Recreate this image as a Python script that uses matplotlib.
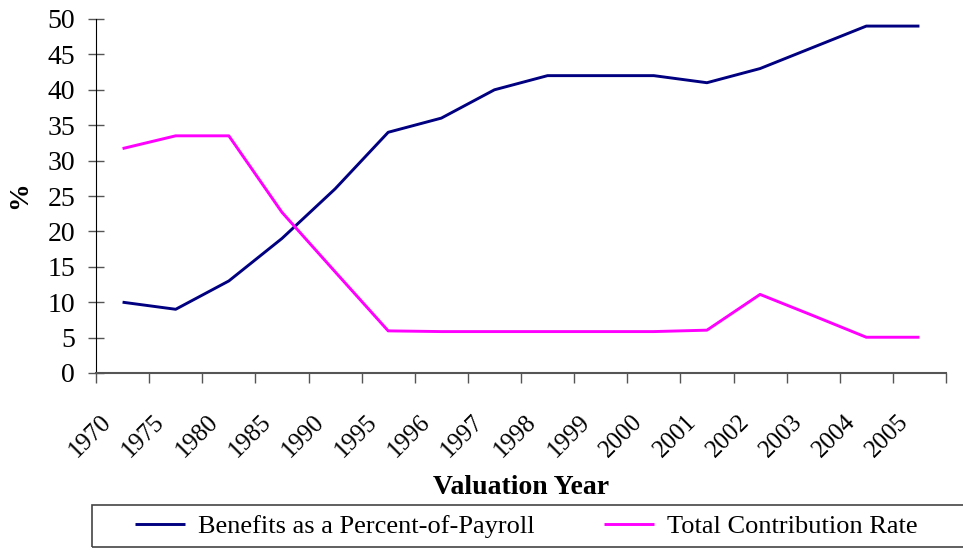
import matplotlib
matplotlib.use("Agg")
from matplotlib import pyplot as plt
from matplotlib.patches import Rectangle

years = ['1970', '1975', '1980', '1985', '1990', '1995', '1996', '1997',
         '1998', '1999', '2000', '2001', '2002', '2003', '2004', '2005']
benefits = [10, 9, 13, 19, 26, 34, 36, 40, 42, 42, 42, 41, 43, 46, 49, 49]
contribution = [31.7, 33.5, 33.5, 22.7, 14.3, 5.95, 5.85, 5.85, 5.85, 5.85,
                5.85, 6.05, 11.1, 8.1, 5.05, 5.05]

plt.rcParams['font.family'] = ['Liberation Serif', 'DejaVu Serif']

fig = plt.figure(figsize=(9.63, 5.48), dpi=100)
ax = fig.add_axes([96/963, 1-373/548, 850/963, 354/548])

xs = [i + 0.5 for i, _ in enumerate(years)]
ax.plot(xs, benefits, color='#000080', lw=2.1, solid_capstyle='butt',
        label='Benefits as a Percent-of-Payroll')
ax.plot(xs, contribution, color='#FF00FF', lw=2.1, solid_capstyle='butt',
        label='Total Contribution Rate')

ax.set_xlim(0, len(years))
ax.set_ylim(0, 50)
ax.set_yticks(range(0, 51, 5))
ax.set_xticks(range(len(years) + 1))
ax.set_xticklabels([])
# labels sit a little left of the category centre, like Excel draws them
ax.set_xticks([x - 0.27 for x in xs], minor=True)
ax.set_xticklabels(years, minor=True, rotation=45, ha='right', va='center',
                   rotation_mode='anchor')
ax.tick_params(axis='x', which='major', direction='out', length=7, width=1,
               color='#555555')
ax.tick_params(axis='x', which='minor', length=0, pad=33, labelsize=18)
ax.tick_params(axis='y', direction='inout', length=12, width=1,
               color='#555555', pad=9, labelsize=20)

for s in ['top', 'right']:
    ax.spines[s].set_visible(False)
ax.spines['left'].set_color('black')
ax.spines['bottom'].set_color('#555555')
ax.spines['bottom'].set_linewidth(1.5)

fig.text(20/963, 1-195/548, '%', rotation=90, fontsize=20, fontweight='bold',
         ha='center', va='center')
fig.text(521/963, 1-488/548, 'Valuation Year', fontsize=20,
         fontweight='bold', ha='center', va='center')

# legend box runs off the right edge
fig.patches.append(Rectangle((92/963, 1/548), 0.95, 42/548,
                             transform=fig.transFigure, fill=False,
                             edgecolor='#444444', lw=1.2))
fig.legend(loc='center left', bbox_to_anchor=(135/963, 1-526/548),
           ncol=2, frameon=False, fontsize=19, handlelength=1.9,
           handletextpad=0.5, columnspacing=2.6, borderpad=0,
           borderaxespad=0)

fig.savefig('out.png', dpi=100)
